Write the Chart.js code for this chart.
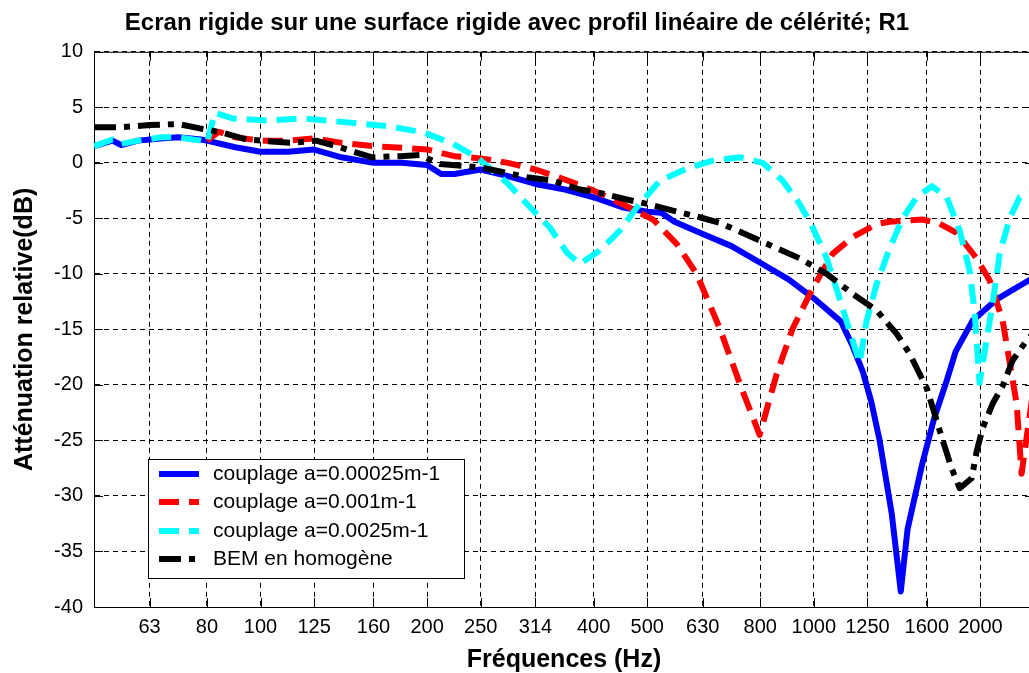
<!DOCTYPE html>
<html>
<head>
<meta charset="utf-8">
<script src="https://cdn.jsdelivr.net/npm/chart.js@4.4.0/dist/chart.umd.min.js"></script>
<style>
  html, body { margin: 0; padding: 0; background: #fff; overflow: hidden; }
  #wrap { width: 1029px; height: 673px; overflow: hidden; }
  canvas { display: block; }
</style>
</head>
<body>
<div id="wrap"><canvas id="chart" width="1034" height="673"></canvas></div>
<script>
// third-octave tick marks (Hz) and axis limits
const freqTicks = [63, 80, 100, 125, 160, 200, 250, 314, 400, 500, 630, 800, 1000, 1250, 1600, 2000];
const yTicks = { min: -40, max: 10, step: 5 };

// couplage a=0.00025m-1
const freqBlue = [50, 54, 56, 60, 66, 71, 78, 80, 90, 100, 112, 125, 140, 160, 180, 200, 212, 224, 250, 280, 314, 355, 400, 450, 500, 530, 560, 630, 710, 800, 900, 1000, 1120, 1175, 1226, 1270, 1315, 1383, 1436, 1477, 1572, 1650, 1739, 1804, 1937, 2140, 2444, 2500];
const valBlue = [1.5, 2.0, 1.6, 2.0, 2.2, 2.3, 2.1, 2.0, 1.4, 1.0, 1.0, 1.2, 0.5, 0.0, 0.0, -0.2, -1.0, -1.0, -0.6, -1.2, -1.9, -2.4, -3.1, -4.0, -4.4, -4.5, -5.3, -6.4, -7.5, -9.0, -10.5, -12.2, -14.3, -16.5, -18.8, -21.5, -25, -31.6, -38.6, -33, -27, -23, -19.6, -17, -14.2, -12.3, -10.6, -10.3];

// couplage a=0.001m-1
const freqRed = [80, 84, 90, 100, 112, 125, 140, 160, 180, 200, 224, 250, 280, 314, 355, 400, 450, 512, 565, 614, 676, 735, 798, 857, 916, 995, 1081, 1175, 1299, 1371, 1572, 1689, 1812, 1969, 2079, 2194, 2326, 2374, 2500];
const valRed = [2.0, 2.8, 2.3, 2.0, 2.0, 2.2, 1.8, 1.5, 1.35, 1.2, 0.6, 0.4, 0.0, -0.6, -1.5, -2.5, -3.7, -5.1, -7.3, -10, -14.9, -19.9, -24.5, -19, -14.9, -11.3, -8.2, -6.7, -5.5, -5.3, -5.1, -5.5, -6.3, -8.6, -10.6, -14.2, -21.7, -28, -20];

// couplage a=0.0025m-1
const freqCyan = [50, 54, 56, 60, 66, 71, 78, 80, 82.7, 89, 103, 119, 133, 153, 171, 198, 223, 246, 279, 307, 333, 358, 378, 410, 446, 479, 527, 590, 656, 735, 808, 878, 943, 995, 1055, 1113, 1175, 1210, 1246, 1299, 1371, 1447, 1534, 1634, 1739, 1835, 1912, 1952, 1993, 2104, 2167, 2259, 2355, 2500];
const valCyan = [1.5, 2.1, 1.7, 2.0, 2.3, 2.3, 2.0, 1.8, 4.5, 4.0, 3.8, 4.0, 3.8, 3.5, 3.3, 2.7, 1.7, 0.5, -1.8, -4, -5.8, -8.1, -9.1, -7.9, -6.1, -4, -1.6, -0.5, 0.2, 0.5, 0, -1.6, -3.7, -5.8, -8.6, -12.2, -16, -18, -14.2, -10.9, -7.7, -5, -3.1, -2.1, -3.1, -6.1, -9.7, -13.3, -19.8, -12.7, -8.2, -5, -3.1, -2.7];

// BEM en homogène
const freqBlack = [50, 55.7, 63, 71, 77.7, 80, 85.5, 94.5, 113, 126, 139, 159, 179, 194, 211, 249, 279, 303, 337, 378, 410, 459, 500, 556, 622, 676, 798, 943, 1055, 1175, 1299, 1412, 1490, 1600, 1710, 1774, 1835, 1929, 1969, 2019, 2104, 2194, 2287, 2424, 2500];
const valBlack = [3.2, 3.2, 3.4, 3.5, 3.1, 3.0, 2.7, 2.1, 1.8, 2.0, 1.4, 0.5, 0.6, 0.7, -0.1, -0.4, -0.9, -1.3, -1.6, -2.4, -2.7, -3.3, -3.7, -4.3, -4.9, -5.4, -7, -8.6, -10, -11.8, -13.3, -15.4, -17.2, -20.3, -25, -27.5, -29.3, -28.4, -26, -23.9, -21.7, -20.1, -17.8, -16, -15.3];

function pairs(fs, vs) {
  return fs.map((f, i) => ({ x: f, y: vs[i] }));
}

const FONT = 'Liberation Sans';

// box around the plot + inward tick marks (matlab style)
const framePlugin = {
  id: 'frame',
  beforeDatasetsDraw(chart) {
    const { ctx, chartArea: a, scales } = chart;
    ctx.save();
    ctx.strokeStyle = '#000';
    ctx.lineWidth = 1;
    ctx.setLineDash([]);
    ctx.beginPath();
    ctx.moveTo(a.left, a.top + 0.5); ctx.lineTo(a.right, a.top + 0.5);
    scales.x.ticks.forEach(t => {
      const x = Math.round(scales.x.getPixelForValue(t.value)) + 0.5;
      ctx.moveTo(x, a.bottom); ctx.lineTo(x, a.bottom - 9);
      ctx.moveTo(x, a.top); ctx.lineTo(x, a.top + 9);
    });
    scales.y.ticks.forEach(t => {
      const y = Math.round(scales.y.getPixelForValue(t.value)) + 0.5;
      ctx.moveTo(a.left, y); ctx.lineTo(a.left + 9, y);
      ctx.moveTo(a.right, y); ctx.lineTo(a.right - 9, y);
    });
    ctx.stroke();
    ctx.restore();
  }
};

// legend box in the lower left of the plot
const legendPlugin = {
  id: 'boxLegend',
  afterDraw(chart) {
    const { ctx, chartArea: a } = chart;
    const left = a.left + 54, top = a.bottom - 148, w = 316, h = 119;
    ctx.save();
    ctx.fillStyle = '#fff';
    ctx.fillRect(left, top, w, h);
    ctx.strokeStyle = '#000';
    ctx.lineWidth = 1;
    ctx.strokeRect(left + 0.5, top + 0.5, w, h);
    ctx.font = '21px "' + FONT + '"';
    ctx.textBaseline = 'middle';
    chart.data.datasets.forEach((ds, i) => {
      const y = Math.round(top + 15 + i * 28.3);
      ctx.beginPath();
      ctx.setLineDash(ds.borderDash || []);
      ctx.lineWidth = ds.borderWidth;
      ctx.strokeStyle = ds.borderColor;
      ctx.lineCap = 'butt';
      ctx.moveTo(left + 11, y);
      ctx.lineTo(left + 51, y);
      ctx.stroke();
      ctx.fillStyle = '#000';
      ctx.fillText(ds.label, left + 65, y);
    });
    ctx.restore();
  }
};

function lineSet(label, fs, vs, color, dash, order) {
  return {
    label: label,
    data: pairs(fs, vs),
    borderColor: color,
    backgroundColor: color,
    borderWidth: 6,
    borderDash: dash,
    borderCapStyle: 'butt',
    borderJoinStyle: 'round',
    pointRadius: 0,
    tension: 0,
    fill: false,
    order: order
  };
}

window.addEventListener('DOMContentLoaded', () => {
  new Chart(document.getElementById('chart'), {
    type: 'line',
    data: {
      datasets: [
        lineSet('couplage a=0.00025m-1', freqBlue, valBlue, '#0000ff', [], 3),
        lineSet('couplage a=0.001m-1', freqRed, valRed, '#ff0000', [20, 10], 2),
        lineSet('couplage a=0.0025m-1', freqCyan, valCyan, '#00ffff', [20, 10], 1),
        lineSet('BEM en homogène', freqBlack, valBlack, '#000000', [22, 8, 6, 8], 0)
      ]
    },
    options: {
      responsive: false,
      animation: false,
      events: [],
      layout: { padding: 0 },
      plugins: {
        legend: { display: false },
        tooltip: { enabled: false },
        title: {
          display: true,
          text: 'Ecran rigide sur une surface rigide avec profil linéaire de célérité; R1',
          color: '#000',
          font: { family: FONT, size: 24, weight: 'bold' },
          padding: { top: 9, bottom: 14 }
        }
      },
      scales: {
        x: {
          type: 'logarithmic',
          min: 50,
          max: 2500,
          afterBuildTicks: s => { s.ticks = freqTicks.map(v => ({ value: v })); },
          afterFit: s => { s.height = 66; },
          ticks: {
            autoSkip: false,
            maxRotation: 0,
            minRotation: 0,
            padding: 8,
            color: '#000',
            font: { family: FONT, size: 20 },
            callback: v => String(v)
          },
          grid: { color: '#000', lineWidth: 1, drawTicks: false },
          border: { color: '#000', width: 1, dash: [5, 4] },
          title: {
            display: true,
            text: 'Fréquences (Hz)',
            color: '#000',
            font: { family: FONT, size: 25, weight: 'bold' },
            padding: { top: 0, bottom: -2 }
          }
        },
        y: {
          min: yTicks.min,
          max: yTicks.max,
          afterFit: s => { s.width = 94; },
          ticks: {
            stepSize: yTicks.step,
            padding: 11,
            color: '#000',
            font: { family: FONT, size: 20 }
          },
          grid: { color: '#000', lineWidth: 1, drawTicks: false },
          border: { color: '#000', width: 1, dash: [5, 4] },
          title: {
            display: true,
            text: 'Atténuation relative(dB)',
            color: '#000',
            font: { family: FONT, size: 25, weight: 'bold' },
            padding: { top: 10, bottom: 0 }
          }
        }
      }
    },
    plugins: [framePlugin, legendPlugin]
  });
});
</script>
</body>
</html>
